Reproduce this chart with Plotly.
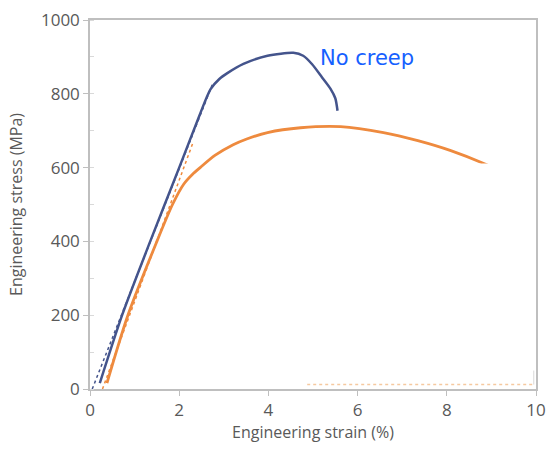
import plotly.graph_objects as go

# Data
blue_x = [0.22, 0.72, 1.35, 2.0, 2.45, 2.7, 2.9, 3.08, 3.44, 3.98, 4.56, 4.78, 4.98, 5.2, 5.39, 5.5, 5.55]
blue_y = [16, 200, 400, 600, 740, 812, 840, 856, 881, 903, 911, 903, 880, 845, 814, 788, 754]

orange_x = [0.38, 0.85, 1.5, 1.85, 2.1, 2.3, 2.47, 2.8, 3.21, 3.5, 3.98, 4.72, 5.62, 6.58, 7.35, 8.09, 8.83, 9.2]
orange_y = [16, 200, 400, 500, 555, 582, 600, 633, 662, 677, 695, 708, 711, 695, 673, 646, 611, 590]

blue_fit_x = [0.05, 2.76]
blue_fit_y = [0, 830]
orange_fit_x = [0.28, 2.31]
orange_fit_y = [0, 668]

x_ticks = [0, 2, 4, 6, 8, 10]
y_ticks = [0, 200, 400, 600, 800, 1000]

fig = go.Figure()
fig.add_trace(go.Scatter(x=blue_fit_x, y=blue_fit_y, mode="lines",
                         line=dict(color="#44548c", width=1.5, dash="dot"), showlegend=False))
fig.add_trace(go.Scatter(x=orange_fit_x, y=orange_fit_y, mode="lines",
                         line=dict(color="#f08a3c", width=1.5, dash="dot"), showlegend=False))
fig.add_trace(go.Scatter(x=orange_x, y=orange_y, mode="lines", line_shape="spline",
                         line=dict(color="#ee8a3e", width=2.8, smoothing=0.8), showlegend=False))
fig.add_trace(go.Scatter(x=blue_x, y=blue_y, mode="lines", line_shape="spline",
                         line=dict(color="#44548c", width=2.5, smoothing=0.7), showlegend=False))

# white patch covering the lower right part of the plot
fig.add_shape(type="rect", xref="x", yref="y", x0=4.65, x1=10.15, y0=8, y1=611,
              fillcolor="white", line=dict(width=0), layer="above")
fig.add_shape(type="line", xref="x", yref="y", x0=4.87, x1=9.95, y0=12, y1=12,
              line=dict(color="#f5c9a0", width=1.5, dash="dot"), layer="above")
fig.add_shape(type="line", xref="x", yref="y", x0=9.95, x1=9.95, y0=12, y1=50,
              line=dict(color="#d8d8d8", width=1), layer="above")

fig.add_annotation(x=6.22, y=897, text="No creep", showarrow=False,
                   font=dict(family="DejaVu Sans", size=21, color="#1560ff"))

axis_font = dict(family="Open Sans", size=17, color="#595959")
title_font = dict(family="Open Sans", size=16, color="#595959")
fig.update_xaxes(range=[0, 10], tickvals=x_ticks, ticks="outside", ticklen=5,
                 tickcolor="#bfbfbf", showgrid=False, zeroline=False, automargin=False,
                 showline=True, linecolor="#bfbfbf", linewidth=1.5, mirror=True,
                 tickfont=axis_font,
                 title=dict(text="Engineering strain (%)", font=title_font, standoff=4))
fig.update_yaxes(range=[0, 1000], tickvals=y_ticks, ticks="outside", ticklen=5,
                 tickcolor="#bfbfbf", showgrid=False, zeroline=False, automargin=False,
                 showline=True, linecolor="#bfbfbf", linewidth=1.5, mirror=True,
                 minor=dict(dtick=100, ticks="inside", ticklen=4, tickcolor="#d9d9d9"),
                 tickfont=axis_font,
                 title=dict(text="Engineering stress (MPa)", font=title_font, standoff=14))

fig.update_layout(width=546, height=466, margin=dict(l=90, r=10, t=20, b=77),
                  plot_bgcolor="white", paper_bgcolor="white")
fig.write_html("out.html")
